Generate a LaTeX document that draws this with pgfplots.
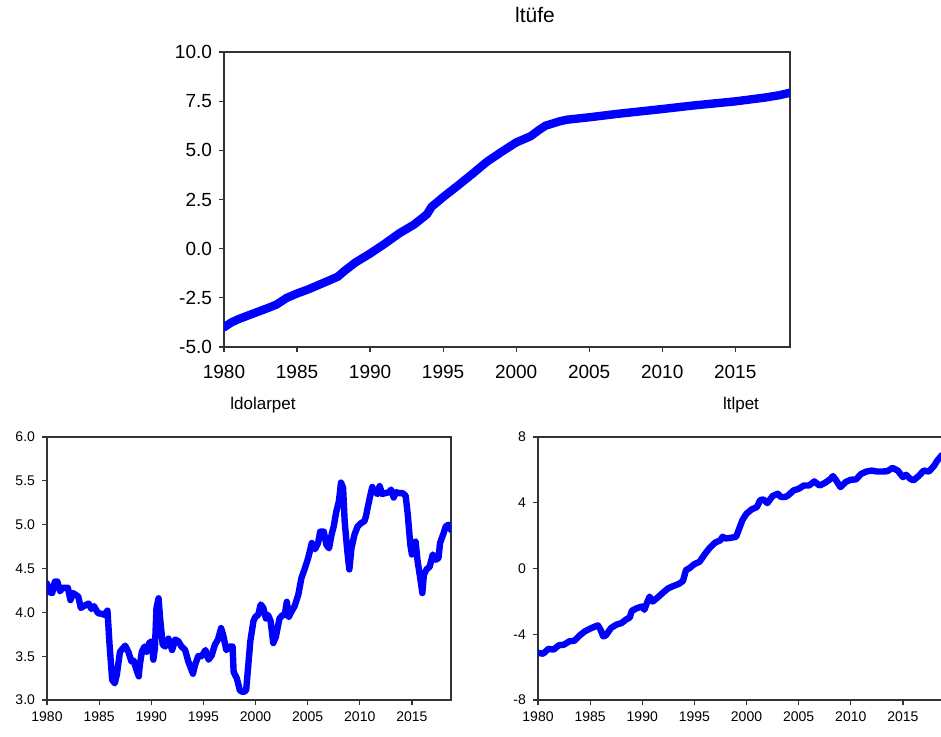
\documentclass[border=0pt]{standalone}
\usepackage{fontspec}
\setmainfont{Liberation Sans}
\usepackage{pgfplots}
\pgfplotsset{compat=1.18}
\definecolor{evblue}{RGB}{0,0,255}
\pgfplotsset{
  evstyle/.style={
    scale only axis,
    axis line style={draw=black!80, line width=0.6pt},
    tick style={black!80, line width=0.6pt},
    major tick length=2.5pt,
    tick align=outside,
    xtick pos=bottom, ytick pos=left,
    xmin=1980, xmax=2018.75,
    xtick={1980,1985,1990,1995,2000,2005,2010,2015},
    xticklabels={1980,1985,1990,1995,2000,2005,2010,2015},
    clip=true,
  }
}
\begin{document}
\begin{tikzpicture}
% ---------------- top: ltufe
\begin{axis}[evstyle,
  at={(112pt,194.5pt)}, anchor=south west,
  width=283pt, height=147.5pt,
  ymin=-5, ymax=10,
  ytick={-5,-2.5,0,2.5,5,7.5,10},
  yticklabels={-5.0,-2.5,0.0,2.5,5.0,7.5,10.0},
  tick label style={font=\fontsize{9.5}{11}\selectfont},
  xticklabel style={yshift=-3pt},
]
\addplot[evblue, line width=4.2pt, line join=round, line cap=round] coordinates {
(1980.0,-4.00) (1980.5,-3.75) (1981.0,-3.58) (1982.0,-3.30) (1983.0,-3.02)
(1983.6,-2.84) (1984.3,-2.50) (1985.0,-2.28) (1985.8,-2.06) (1987.0,-1.68)
(1987.8,-1.42) (1988.2,-1.16) (1989.0,-0.70) (1990.0,-0.25) (1991.0,0.25)
(1992.0,0.78) (1993.0,1.22) (1993.9,1.75) (1994.2,2.12) (1995.0,2.62)
(1996.0,3.20) (1997.0,3.80) (1998.0,4.42) (1999.0,4.92) (2000.0,5.40)
(2001.0,5.72) (2001.5,6.00) (2002.0,6.25) (2003.0,6.48) (2003.5,6.56)
(2005.0,6.68) (2007.0,6.86) (2010.0,7.10) (2012.0,7.27) (2015.0,7.49)
(2017.0,7.68) (2018.0,7.80) (2018.75,7.93)
};
\end{axis}
% ---------------- bottom left: ldolarpet
\begin{axis}[evstyle,
  at={(23.5pt,18pt)}, anchor=south west,
  width=202pt, height=131.5pt,
  ymin=3, ymax=6,
  ytick={3,3.5,4,4.5,5,5.5,6},
  yticklabels={3.0,3.5,4.0,4.5,5.0,5.5,6.0},
  tick label style={font=\fontsize{7}{8}\selectfont},
]
\addplot[evblue, line width=3.2pt, line join=round, line cap=round] coordinates {
(1980.0,4.33) (1980.25,4.23) (1980.5,4.22) (1980.75,4.35) (1981.0,4.35)
(1981.25,4.24) (1981.5,4.28) (1982.0,4.28) (1982.25,4.14) (1982.5,4.22)
(1983.0,4.18) (1983.25,4.05) (1983.5,4.07) (1984.0,4.10) (1984.25,4.04)
(1984.5,4.07) (1984.9,3.99) (1985.4,3.98) (1985.5,3.97) (1985.8,4.02)
(1986.0,3.63) (1986.25,3.23) (1986.5,3.19) (1986.7,3.29) (1987.0,3.55)
(1987.5,3.62) (1987.8,3.55) (1988.1,3.44) (1988.3,3.45) (1988.6,3.34)
(1988.8,3.27) (1988.9,3.40) (1989.1,3.55) (1989.35,3.61) (1989.55,3.55)
(1989.8,3.65) (1990.05,3.67) (1990.2,3.46) (1990.35,3.59) (1990.5,4.05)
(1990.7,4.16) (1990.85,3.93) (1991.1,3.63) (1991.35,3.61) (1991.65,3.70)
(1992.0,3.57) (1992.3,3.69) (1992.6,3.67) (1992.9,3.61) (1993.25,3.57)
(1993.55,3.44) (1994.0,3.30) (1994.2,3.40) (1994.5,3.50) (1994.85,3.50)
(1995.2,3.57) (1995.5,3.46) (1995.8,3.51) (1996.1,3.63) (1996.4,3.69)
(1996.7,3.82) (1996.9,3.74) (1997.2,3.57) (1997.5,3.61) (1997.8,3.61)
(1997.9,3.32) (1998.2,3.25) (1998.5,3.11) (1998.8,3.09) (1999.1,3.11)
(1999.5,3.67) (1999.8,3.90) (2000.0,3.95) (2000.25,3.97) (2000.5,4.09)
(2000.75,4.05) (2001.0,3.93) (2001.2,3.97) (2001.45,3.90) (2001.7,3.65)
(2001.95,3.72) (2002.3,3.93) (2002.6,3.97) (2002.8,3.97) (2003.0,4.12)
(2003.2,3.95) (2003.45,4.01) (2003.75,4.07) (2004.1,4.20) (2004.4,4.39)
(2004.7,4.49) (2005.05,4.62) (2005.4,4.79) (2005.7,4.72) (2006.0,4.79)
(2006.2,4.92) (2006.55,4.92) (2006.8,4.77) (2007.05,4.73) (2007.3,4.89)
(2007.5,4.98) (2007.75,5.15) (2008.0,5.27) (2008.2,5.48) (2008.4,5.42)
(2008.55,5.04) (2008.8,4.70) (2009.0,4.49) (2009.2,4.73) (2009.5,4.89)
(2009.8,4.98) (2010.15,5.02) (2010.45,5.04) (2010.6,5.10) (2010.75,5.19)
(2011.0,5.33) (2011.2,5.43) (2011.4,5.38) (2011.7,5.35) (2011.9,5.44)
(2012.15,5.35) (2012.45,5.36) (2012.8,5.37) (2013.0,5.40) (2013.25,5.31)
(2013.5,5.37) (2013.8,5.36) (2014.1,5.36) (2014.4,5.33) (2014.6,5.12)
(2014.85,4.77) (2015.0,4.66) (2015.2,4.79) (2015.35,4.81) (2015.55,4.58)
(2015.8,4.39) (2016.0,4.22) (2016.15,4.43) (2016.4,4.49) (2016.7,4.52)
(2017.0,4.66) (2017.3,4.60) (2017.55,4.62) (2017.7,4.79) (2018.0,4.89)
(2018.25,4.98) (2018.5,5.00) (2018.75,4.94)
};
\end{axis}
% ---------------- bottom right: ltlpet
\begin{axis}[evstyle,
  at={(269pt,18pt)}, anchor=south west,
  width=202pt, height=131.5pt,
  ymin=-8, ymax=8,
  ytick={-8,-4,0,4,8},
  yticklabels={-8,-4,0,4,8},
  tick label style={font=\fontsize{7}{8}\selectfont},
]
\addplot[evblue, line width=3.2pt, line join=round, line cap=round] coordinates {
(1980.0,-5.14) (1980.5,-5.18) (1981.0,-4.89) (1981.5,-4.93) (1982.0,-4.67)
(1982.5,-4.63) (1983.0,-4.43) (1983.5,-4.39) (1984.0,-4.07) (1984.5,-3.82)
(1985.0,-3.66) (1985.5,-3.52) (1985.75,-3.46) (1986.0,-3.72) (1986.25,-4.13)
(1986.5,-4.07) (1987.0,-3.62) (1987.5,-3.42) (1988.0,-3.32) (1988.5,-3.08)
(1988.8,-2.98) (1989.0,-2.57) (1989.5,-2.41) (1990.0,-2.31) (1990.2,-2.51)
(1990.5,-2.01) (1990.7,-1.71) (1991.0,-2.01) (1991.5,-1.75) (1992.0,-1.46)
(1992.5,-1.20) (1993.0,-1.06) (1993.5,-0.94) (1993.9,-0.76) (1994.2,-0.09)
(1994.5,0.01) (1995.0,0.27) (1995.5,0.41) (1996.0,0.88) (1996.5,1.28)
(1997.0,1.58) (1997.5,1.72) (1997.7,1.93) (1998.0,1.83) (1998.5,1.87)
(1999.0,1.93) (1999.3,2.43) (1999.6,2.94) (2000.0,3.34) (2000.5,3.60)
(2001.0,3.74) (2001.3,4.15) (2001.6,4.21) (2002.0,3.98) (2002.5,4.41)
(2003.0,4.55) (2003.3,4.35) (2003.7,4.35) (2004.0,4.45) (2004.5,4.75)
(2005.0,4.85) (2005.5,5.05) (2006.0,5.05) (2006.5,5.30) (2007.0,5.05)
(2007.5,5.20) (2008.0,5.42) (2008.3,5.62) (2008.6,5.36) (2009.0,4.95)
(2009.5,5.26) (2010.0,5.40) (2010.5,5.42) (2011.0,5.76) (2011.5,5.90)
(2012.0,5.96) (2012.5,5.90) (2013.0,5.90) (2013.5,5.92) (2014.0,6.12)
(2014.5,5.96) (2015.0,5.56) (2015.3,5.70) (2015.7,5.46) (2016.0,5.36)
(2016.5,5.62) (2017.0,5.96) (2017.5,5.90) (2018.0,6.26) (2018.3,6.57)
(2018.75,6.90)
};
\end{axis}
% titles
\node[font=\fontsize{10.5}{12}\selectfont] at (267.5pt,360.5pt) {ltüfe};
\node[font=\fontsize{8.5}{10}\selectfont] at (131.5pt,165.5pt) {ldolarpet};
\node[font=\fontsize{8.5}{10}\selectfont] at (370.5pt,165.5pt) {ltlpet};
\pgfresetboundingbox
\path[use as bounding box] (0,0) rectangle (470.5pt,368pt);
\end{tikzpicture}
\end{document}
